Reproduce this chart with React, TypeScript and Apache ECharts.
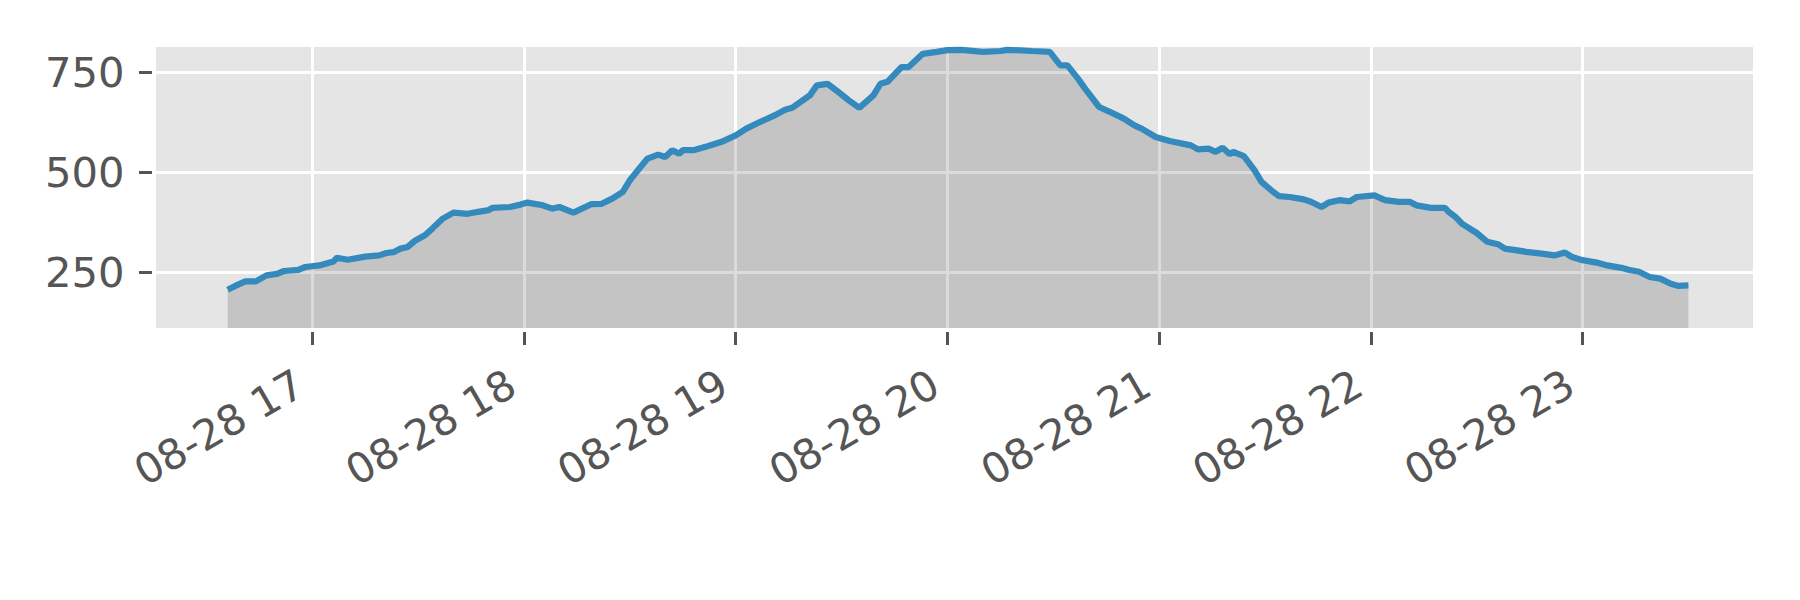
import React, { useEffect, useRef } from "react";
import * as echarts from "echarts";

const times: string[] = [
  "16:36","16:38","16:41","16:44","16:47","16:50","16:52","16:56","16:58","17:02",
  "17:06","17:07","17:10","17:15","17:19","17:21","17:23","17:25","17:27","17:29",
  "17:32","17:34","17:37","17:40","17:44","17:47","17:50","17:51","17:56","17:59",
  "18:01","18:03","18:05","18:08","18:10","18:14","18:19","18:22","18:25","18:28",
  "18:30","18:33","18:35","18:38","18:40","18:42","18:44","18:45","18:48","18:52",
  "18:56","19:00","19:03","19:07","19:11","19:14","19:16","19:21","19:23","19:26",
  "19:29","19:32","19:35","19:39","19:41","19:43","19:47","19:49","19:53","19:57",
  "20:00","20:04","20:10","20:15","20:17","20:24","20:29","20:32","20:34","20:37",
  "20:39","20:43","20:46","20:50","20:53","20:55","20:59","21:03","21:09","21:11",
  "21:14","21:16","21:18","21:20","21:21","21:24","21:27","21:29","21:32","21:34",
  "21:37","21:41","21:43","21:46","21:48","21:51","21:54","21:56","22:01","22:04",
  "22:08","22:11","22:13","22:17","22:21","22:22","22:24","22:26","22:30","22:33",
  "22:36","22:38","22:41","22:44","22:49","22:52","22:55","22:57","23:00","23:04",
  "23:07","23:11","23:13","23:16","23:19","23:22","23:25","23:27","23:30"
];

const values: number[] = [
  207,216,228,228,243,247,254,257,264,268,
  278,287,282,290,293,299,301,310,314,329,
  344,360,385,400,397,402,406,412,414,420,
  425,422,419,410,414,400,421,422,435,452,
  481,514,535,545,539,556,547,556,556,566,
  577,593,610,627,643,657,662,693,718,722,
  702,681,662,693,722,727,764,764,797,802,
  806,807,802,804,807,804,802,768,768,735,
  710,664,652,635,618,610,589,579,568,558,
  560,552,562,546,552,541,506,477,454,441,
  439,433,427,414,425,431,428,439,443,431,
  427,427,418,412,412,402,389,371,349,327,
  321,310,306,302,297,293,300,289,281,275,
  268,262,257,252,239,235,222,217,218
];

const hourTicks: number[] = [17, 18, 19, 20, 21, 22, 23];
const yTicks: number[] = [250, 500, 750];
const datePrefix = "08-28";

const toHours = (t: string) => {
  const [h, m] = t.split(":").map(Number);
  return h + m / 60;
};

export default function App() {
  const ref = useRef<HTMLDivElement>(null);

  useEffect(() => {
    if (!ref.current) return;
    const chart = echarts.init(ref.current, undefined, { renderer: "svg" });
    const data = times.map((t, i) => [toHours(t), values[i]]);
    const font = "DejaVu Sans";
    const textColor = "#555555";

    chart.setOption({
      animation: false,
      backgroundColor: "#ffffff",
      grid: {
        left: 156,
        top: 47,
        width: 1597,
        height: 281,
        show: true,
        backgroundColor: "#E5E5E5",
        borderWidth: 0,
      },
      xAxis: {
        type: "value",
        min: 16.2616,
        max: 23.805,
        offset: 4,
        axisLine: { show: false },
        axisTick: {
          show: true,
          length: 13,
          customValues: hourTicks,
          lineStyle: { color: textColor, width: 3 },
        },
        axisLabel: {
          customValues: hourTicks,
          rotate: 30,
          margin: 41.6,
          padding: [0, 14, 0, 0],
          fontFamily: font,
          fontSize: 41.7,
          color: textColor,
          formatter: (v: number) => `${datePrefix} ${Math.round(v)}`,
        },
        splitLine: { show: true, lineStyle: { color: "#ffffff", width: 3 } },
      },
      yAxis: {
        type: "value",
        min: 111.5,
        max: 814,
        offset: 4,
        axisLine: { show: false },
        axisTick: {
          show: true,
          length: 13,
          customValues: yTicks,
          lineStyle: { color: textColor, width: 3 },
        },
        axisLabel: {
          customValues: yTicks,
          margin: 27.5,
          fontFamily: font,
          fontSize: 41.7,
          color: textColor,
        },
        splitLine: { show: true, lineStyle: { color: "#ffffff", width: 3 } },
      },
      series: [
        {
          type: "line",
          data,
          showSymbol: false,
          symbol: "none",
          lineStyle: { color: "#348ABD", width: 6.25 },
          areaStyle: { color: "rgba(0,0,0,0.14)", opacity: 1, origin: "start" },
        },
      ],
    });

    return () => chart.dispose();
  }, []);

  return (
    <div
      ref={ref}
      style={{ position: "fixed", left: 0, top: 0, width: 1800, height: 600 }}
    />
  );
}
